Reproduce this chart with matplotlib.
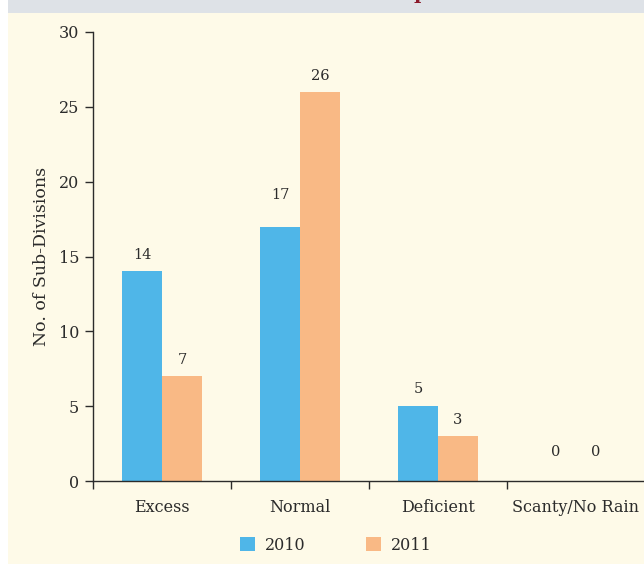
import matplotlib
matplotlib.use("Agg")
import matplotlib.pyplot as plt
from matplotlib.patches import Rectangle, Patch
import numpy as np

categories = ["Excess", "Normal", "Deficient", "Scanty/No Rain"]
series_names = ["2010", "2011"]
values_2010 = [14, 17, 5, 0]
values_2011 = [7, 26, 3, 0]
yticks = [0, 5, 10, 15, 20, 25, 30]

# label offsets above bar tops (points), styling only
offsets_2010 = [6.5, 18, 7, 16]
offsets_2011 = [6.5, 6.5, 6.5, 16]

c2010 = "#4FB6E8"
c2011 = "#F9B985"
cream = "#FEFAE8"
band = "#DEE2E7"
txt = "#2b2b2b"

plt.rcParams['font.family'] = ['DejaVu Serif']

W, H = 644, 564
fig = plt.figure(figsize=(W / 100, H / 100), dpi=100)
fig.patch.set_facecolor("white")
fig.add_artist(Rectangle((8 / W, 0), 1 - 8 / W, 1 - 13 / H, transform=fig.transFigure,
                         facecolor=cream, edgecolor="none", zorder=0))
fig.add_artist(Rectangle((8 / W, 1 - 13 / H), 1 - 8 / W, 13 / H, transform=fig.transFigure,
                         facecolor=band, edgecolor="none", zorder=0))
fig.text(420 / W, 1 + 1 / H, "p", color="#8B1A2B", fontsize=14, fontweight="bold",
         ha="center", va="baseline")

ax = fig.add_axes([93 / W, 1 - 481 / H, (645 - 93) / W, (481 - 32) / H])
ax.set_facecolor("none")

x = np.arange(len(categories))
bw = 0.29
b1 = ax.bar(x - bw / 2, values_2010, bw, color=c2010, label=series_names[0])
b2 = ax.bar(x + bw / 2, values_2011, bw, color=c2011, label=series_names[1])

for bars, vals, offs in ((b1, values_2010, offsets_2010), (b2, values_2011, offsets_2011)):
    for rect, v, o in zip(bars, vals, offs):
        ax.annotate(str(v), (rect.get_x() + rect.get_width() / 2, v),
                    xytext=(0, o), textcoords="offset points",
                    ha="center", va="bottom", fontsize=10.5, color=txt)

ax.set_xlim(-0.5, len(categories) - 0.5)
ax.set_ylim(0, 30)
ax.set_yticks(yticks)
ax.set_xticks(x)
ax.set_xticklabels(categories, fontsize=11.5, color=txt)
ax.set_xticks(np.arange(len(categories) + 1) - 0.5, minor=True)
ax.tick_params(axis="x", which="major", length=0, pad=13)
ax.tick_params(axis="x", which="minor", length=6, width=1, color=txt, direction="out")
ax.tick_params(axis="y", length=6, width=1, color=txt, labelsize=11.5, labelcolor=txt, pad=4)
for s in ("top", "right"):
    ax.spines[s].set_visible(False)
for s in ("left", "bottom"):
    ax.spines[s].set_color(txt)
    ax.spines[s].set_linewidth(1)
ax.set_ylabel("No. of Sub-Divisions", fontsize=12.5, color=txt, labelpad=6)

handles = [Patch(facecolor=c2010), Patch(facecolor=c2011)]
fig.legend(handles, series_names, loc="center", bbox_to_anchor=(336 / W, 1 - 545 / H),
           ncol=2, frameon=False, fontsize=11.5, handlelength=0.95, handleheight=0.95,
           columnspacing=3.8, handletextpad=0.6, labelcolor=txt)

fig.savefig("out.png", dpi=100, facecolor=fig.get_facecolor())
